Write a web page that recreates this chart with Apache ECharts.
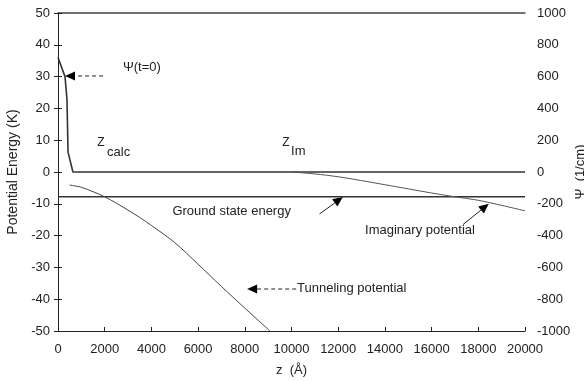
<!DOCTYPE html>
<html>
<head>
<meta charset="utf-8">
<script src="https://cdn.jsdelivr.net/npm/echarts@6/dist/echarts.min.js"></script>
<style>
  html, body { margin: 0; padding: 0; background: #fff; }
  #chart { width: 584px; height: 381px; }
</style>
</head>
<body>
<div id="chart"></div>
<script>
// Axis ranges and ticks
const zTicks = [0, 2000, 4000, 6000, 8000, 10000, 12000, 14000, 16000, 18000, 20000];
const energyTicks = [-50, -40, -30, -20, -10, 0, 10, 20, 30, 40, 50];
const psiTicks = [-1000, -800, -600, -400, -200, 0, 200, 400, 600, 800, 1000];

// Initial wavefunction Psi(t=0), 1/cm, versus z (Å)
const psiZ   = [0,   300, 385, 430, 640, 20000];
const psiVal = [720, 600, 455, 125, 0,   0];

// Ground state energy, K
const groundZ = [0, 20000];
const groundE = [-7.8, -7.8];

// Tunneling potential, K
const tunnelZ = [500, 1000, 1500, 2000, 2500, 3000, 3500, 4000, 5000, 6000, 7000, 8000, 9080];
const tunnelE = [-4.1, -4.8, -6.2, -7.8, -9.8, -12.0, -14.3, -16.8, -22.2, -29.0, -36.0, -42.8, -50];

// Imaginary (absorbing) potential, K
const imagZ = [10000, 11000, 12000, 13000, 14000, 15000, 16000, 17000, 18000, 19000, 20000];
const imagE = [0, -0.6, -1.5, -2.7, -4.0, -5.3, -6.6, -7.8, -8.9, -10.5, -12.2];

const zip = (a, b) => a.map((v, i) => [v, b[i]]);
const plain = (v) => String(v);

const FONT = 'Liberation Sans';
const INK = '#222';

const chart = echarts.init(document.getElementById('chart'), null, { renderer: 'canvas' });

const baseYAxis = {
  type: 'value',
  axisLine: { show: true, lineStyle: { color: INK, width: 1 } },
  axisTick: { show: true, inside: true, length: 4, lineStyle: { color: INK } },
  splitLine: { show: false },
  axisLabel: { fontFamily: FONT, fontSize: 13, color: INK, formatter: plain },
  nameLocation: 'middle',
  nameMoveOverlap: false,
  nameTextStyle: { fontFamily: FONT, fontSize: 13, color: INK }
};

chart.setOption({
  animation: false,
  backgroundColor: '#fff',
  grid: { left: 58, right: 59, top: 13, bottom: 50, containLabel: false, outerBoundsMode: 'none' },
  xAxis: [{
    type: 'value',
    min: zTicks[0], max: zTicks[zTicks.length - 1], interval: zTicks[1] - zTicks[0],
    axisLine: { show: true, onZero: false, lineStyle: { color: INK, width: 1 } },
    axisTick: { show: true, inside: true, length: 4, lineStyle: { color: INK } },
    splitLine: { show: false },
    axisLabel: { fontFamily: FONT, fontSize: 13, color: INK, margin: 12, formatter: plain },
    name: 'z  (Å)',
    nameLocation: 'middle',
    nameGap: 33,
    nameTextStyle: { fontFamily: FONT, fontSize: 13, color: INK }
  }, {
    type: 'value', position: 'top',
    min: zTicks[0], max: zTicks[zTicks.length - 1],
    axisLine: { show: true, onZero: false, lineStyle: { color: '#444', width: 1.5 } },
    axisTick: { show: false }, axisLabel: { show: false }, splitLine: { show: false }
  }],
  yAxis: [Object.assign({}, baseYAxis, {
    position: 'left',
    min: energyTicks[0], max: energyTicks[energyTicks.length - 1], interval: 10,
    axisLabel: Object.assign({}, baseYAxis.axisLabel, { margin: 8 }),
    name: 'Potential Energy (K)',
    nameGap: 38,
    nameTextStyle: { fontFamily: FONT, fontSize: 14, color: INK }
  }), Object.assign({}, baseYAxis, {
    position: 'right',
    min: psiTicks[0], max: psiTicks[psiTicks.length - 1], interval: 200,
    axisLabel: Object.assign({}, baseYAxis.axisLabel, { margin: 12 }),
    name: 'Ψ  (1/cm)',
    nameRotate: 90,
    nameGap: 49
  })],
  series: [{
    name: 'Psi(t=0)', type: 'line', yAxisIndex: 1, showSymbol: false,
    data: zip(psiZ, psiVal),
    lineStyle: { color: '#333', width: 1.6 }
  }, {
    name: 'Ground state energy', type: 'line', showSymbol: false,
    data: zip(groundZ, groundE),
    lineStyle: { color: '#333', width: 1.4 }
  }, {
    name: 'Tunneling potential', type: 'line', showSymbol: false, smooth: 0.3,
    data: zip(tunnelZ, tunnelE),
    lineStyle: { color: '#444', width: 1 }
  }, {
    name: 'Imaginary potential', type: 'line', showSymbol: false, smooth: 0.3,
    data: zip(imagZ, imagE),
    lineStyle: { color: '#555', width: 1 }
  }]
});

// Annotations anchored in (z, energy) coordinates
const px = (z, e) => chart.convertToPixel({ xAxisIndex: 0, yAxisIndex: 0 }, [z, e]);
const textStyle = (extra) => Object.assign({ fontFamily: FONT, fontSize: 13, fill: INK }, extra);

function label(text, z, e, size, align) {
  const p = px(z, e);
  return { type: 'text', x: p[0], y: p[1],
    style: textStyle({ text: text, fontSize: size || 13, textAlign: align || 'left', textVerticalAlign: 'middle' }) };
}

function arrow(z0, e0, z1, e1, dashed) {
  const a = px(z0, e0), b = px(z1, e1);
  const dx = b[0] - a[0], dy = b[1] - a[1];
  const len = Math.hypot(dx, dy), ux = dx / len, uy = dy / len;
  const hl = 10, hw = 4.5;
  const base = [b[0] - ux * hl, b[1] - uy * hl];
  return [{
    type: 'line',
    shape: { x1: a[0], y1: a[1], x2: base[0], y2: base[1] },
    style: { stroke: INK, lineWidth: 1, lineDash: dashed ? [4, 3] : null }
  }, {
    type: 'polygon',
    shape: { points: [b, [base[0] - uy * hw, base[1] + ux * hw], [base[0] + uy * hw, base[1] - ux * hw]] },
    style: { fill: '#000' }
  }];
}

const g = [];
g.push(label('Ψ(t=0)', 2780, 33));
g.push(...arrow(1930, 30.2, 300, 30.2, true));
g.push(label('Z', 1680, 9.3, 12));
g.push(label('calc', 2100, 6.2, 13));
g.push(label('Z', 9600, 9.3, 12));
g.push(label('Im', 9980, 6.4, 13));
g.push(label('Ground state energy', 4900, -12.4));
g.push(...arrow(11200, -13.2, 12200, -7.9, false));
g.push(label('Imaginary potential', 13150, -18.5));
g.push(...arrow(17350, -16.5, 18450, -10, false));
g.push(label('Tunneling potential', 10240, -36.6));
g.push(...arrow(10200, -36.8, 8100, -36.8, true));

chart.setOption({ graphic: { elements: g } });
</script>
</body>
</html>
